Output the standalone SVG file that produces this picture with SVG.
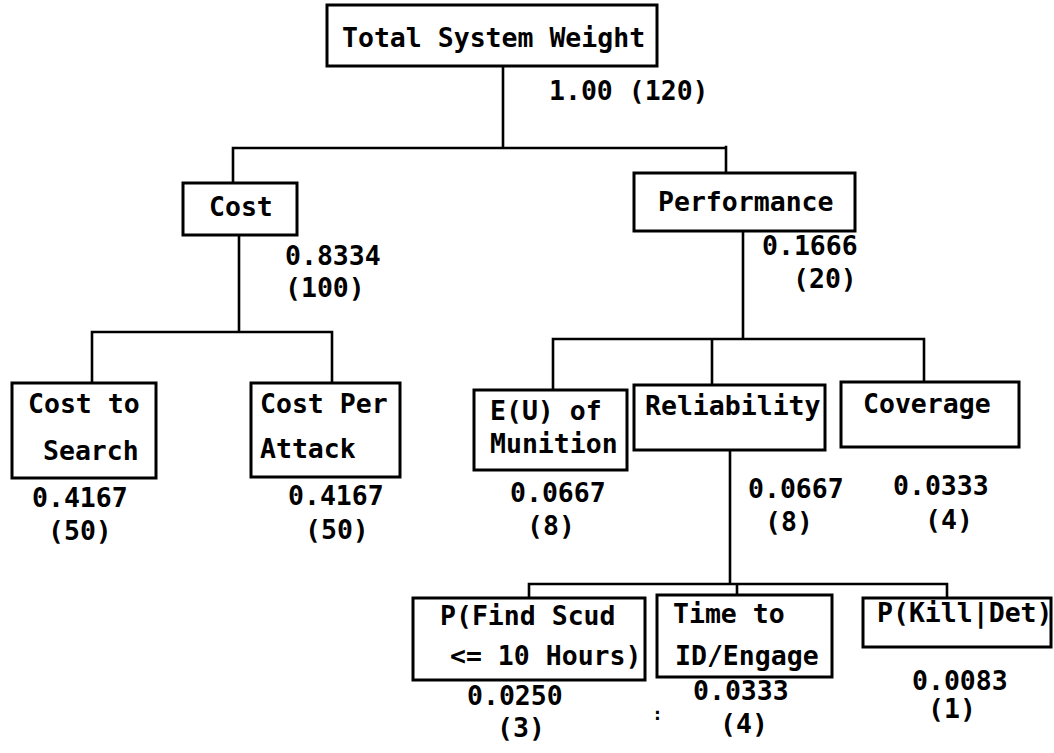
<svg xmlns="http://www.w3.org/2000/svg" width="1054" height="753" viewBox="0 0 1054 753">
<style>
.box{fill:#fff;stroke:#000;stroke-width:3}
.c{fill:none;stroke:#000;stroke-width:2.6;stroke-linecap:square}
text{font-family:"DejaVu Sans Mono","Liberation Mono",monospace;font-weight:bold;font-size:26.5px;fill:#000}
</style>
<rect width="1054" height="753" fill="#fff"/>
<g id="connectors">
<path class="c" d="M503,67V147M233,148H726M233,148V183M726,147V173"/>
<path class="c" d="M239,235V331M92,332H332M92,332V383M332,332V383"/>
<path class="c" d="M743,231V338M553,339H924M553,339V390M712,339V385M924,339V382"/>
<path class="c" d="M730,450V583M529,584H947M529,584V598M737,584V595M947,584V598"/>
</g>
<g id="total"><rect class="box" x="327" y="5" width="330" height="61"/><text x="342" y="47">Total System Weight</text><text x="549" y="100">1.00 (120)</text></g>
<g id="cost"><rect class="box" x="183" y="183" width="114" height="52"/><text x="209" y="216">Cost</text><text x="285" y="265">0.8334</text><text x="285" y="297">(100)</text></g>
<g id="performance"><rect class="box" x="634" y="173" width="221" height="58"/><text x="658" y="211">Performance</text><text x="762" y="255">0.1666</text><text x="793" y="288">(20)</text></g>
<g id="cost-search"><rect class="box" x="12" y="383" width="144" height="95"/><text x="28" y="413">Cost to</text><text x="43" y="460">Search</text><text x="32" y="507">0.4167</text><text x="48" y="540">(50)</text></g>
<g id="cost-attack"><rect class="box" x="251" y="383" width="149" height="94"/><text x="260" y="413">Cost Per</text><text x="260" y="458">Attack</text><text x="288" y="505">0.4167</text><text x="305" y="539">(50)</text></g>
<g id="eu"><rect class="box" x="474" y="390" width="153" height="80"/><text x="490" y="420">E(U) of</text><text x="490" y="453">Munition</text><text x="510" y="502">0.0667</text><text x="527" y="535">(8)</text></g>
<g id="reliability"><rect class="box" x="634" y="385" width="191" height="65"/><text x="645" y="415">Reliability</text><text x="748" y="498">0.0667</text><text x="765" y="531">(8)</text></g>
<g id="coverage"><rect class="box" x="841" y="382" width="178" height="65"/><text x="863" y="413">Coverage</text><text x="893" y="495">0.0333</text><text x="925" y="529">(4)</text></g>
<g id="pfind"><rect class="box" x="413" y="598" width="232" height="82"/><text x="440" y="625">P(Find Scud</text><text x="450" y="665">&lt;= 10 Hours)</text><text x="467" y="705">0.0250</text><text x="497" y="737">(3)</text></g>
<text x="652" y="720" style="font-size:18px">:</text>
<g id="time"><rect class="box" x="657" y="595" width="175" height="82"/><text x="673" y="623">Time to</text><text x="675" y="665">ID/Engage</text><text x="693" y="700">0.0333</text><text x="720" y="733">(4)</text></g>
<g id="pkill"><rect class="box" x="863" y="598" width="188" height="49"/><text x="877" y="622">P(Kill|Det)</text><text x="912" y="690">0.0083</text><text x="928" y="718">(1)</text></g>
</svg>
